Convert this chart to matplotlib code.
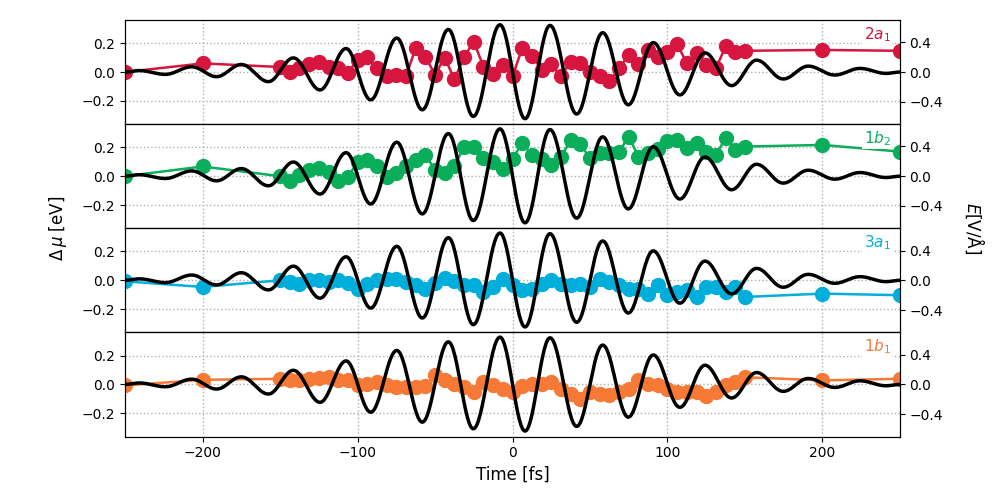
import numpy as np
import matplotlib
matplotlib.use("Agg")
import matplotlib.pyplot as plt

# sampling times of the orbital energy shifts [fs]
time_fs = [-250, -200, -150, -143.75, -137.5, -131.25, -125, -118.75, -112.5,
           -106.25, -100, -93.75, -87.5, -81.25, -75, -68.75, -62.5, -56.25,
           -50, -43.75, -37.5, -31.25, -25, -18.75, -12.5, -6.25, 0, 6.25,
           12.5, 18.75, 25, 31.25, 37.5, 43.75, 50, 56.25, 62.5, 68.75, 75,
           81.25, 87.5, 93.75, 100, 106.25, 112.5, 118.75, 125, 131.25, 137.5,
           143.75, 150, 200, 250]

# delta mu [eV]
mu_2a1 = [0.0, 0.06, 0.035, 0.0, 0.025, 0.053, 0.07, 0.035, 0.03, -0.005,
          0.085, 0.107, 0.025, -0.03, -0.018, -0.028, 0.165, 0.107, -0.018,
          0.10, -0.05, 0.105, 0.21, 0.037, -0.013, 0.052, -0.03, 0.165, 0.114,
          0.014, 0.053, -0.03, 0.072, 0.06, 0.0, -0.03, -0.063, 0.025, 0.12,
          0.053, 0.153, 0.107, 0.137, 0.193, 0.06, 0.13, 0.05, 0.025, 0.177,
          0.142, 0.147, 0.153, 0.147]
mu_1b2 = [0.0, 0.067, 0.0, -0.03, 0.008, 0.043, 0.06, 0.03, -0.03, -0.008,
          0.10, 0.11, 0.067, -0.008, 0.02, 0.067, 0.11, 0.147, 0.043, 0.02,
          0.067, 0.205, 0.205, 0.123, 0.10, 0.047, 0.12, 0.23, 0.147, 0.12,
          0.077, 0.135, 0.247, 0.223, 0.123, 0.158, 0.163, 0.17, 0.274, 0.135,
          0.158, 0.186, 0.24, 0.25, 0.193, 0.228, 0.17, 0.147, 0.263, 0.181,
          0.205, 0.216, 0.17]
mu_3a1 = [-0.007, -0.046, 0.0, -0.01, -0.023, 0.0, 0.0, -0.01, 0.0, -0.016,
          -0.057, -0.023, 0.0, 0.011, 0.011, -0.01, -0.034, -0.057, -0.016,
          0.016, -0.007, -0.034, -0.03, -0.08, -0.046, 0.011, -0.034, -0.069,
          -0.057, -0.023, 0.0, -0.023, -0.034, -0.023, -0.046, 0.011, -0.011,
          -0.034, -0.057, -0.062, -0.092, -0.034, -0.103, -0.08, -0.069,
          -0.115, -0.046, -0.046, -0.08, -0.046, -0.115, -0.092, -0.103]
mu_1b1 = [-0.007, 0.032, 0.039, 0.028, 0.032, 0.039, 0.046, 0.05, 0.032,
          0.028, -0.007, 0.005, 0.016, -0.007, -0.018, -0.018, -0.018, -0.014,
          0.062, 0.028, 0.005, -0.018, -0.053, 0.016, -0.007, -0.03, -0.053,
          -0.014, 0.005, 0.005, 0.016, -0.03, -0.064, -0.099, -0.053, -0.064,
          -0.076, -0.053, -0.03, 0.028, 0.005, -0.007, -0.03, -0.053, -0.053,
          -0.053, -0.083, -0.053, -0.007, 0.016, 0.05, 0.028, 0.039]

orbitals = ["$2a_1$", "$1b_2$", "$3a_1$", "$1b_1$"]
colors = ["#d6163e", "#0aae5a", "#00aedb", "#f67936"]
series = [mu_2a1, mu_1b2, mu_3a1, mu_1b1]

# laser field: extrema (time [fs], E [V/A])
field_t = [-250, -241, -224, -207, -191, -175, -157.5, -141.4, -124.2, -107.4,
           -91.5, -74.7, -58.2, -41.4, -25.3, -8.1, 8.1, 24.2, 41.4, 58.2,
           74.7, 90.8, 108, 124.2, 141.4, 157.5, 174.7, 190.8, 208, 224.2,
           241, 250]
field_e = [0.0, 0.02, -0.031, 0.071, -0.062, 0.102, -0.129, 0.19, -0.24,
           0.316, -0.373, 0.457, -0.507, 0.573, -0.596, 0.636, -0.627, 0.627,
           -0.564, 0.529, -0.44, 0.396, -0.307, 0.258, -0.182, 0.16, -0.093,
           0.08, -0.04, 0.049, -0.018, 0.0]

# smooth half-wave segments between the read extrema
ft, fe = [], []
for i in range(len(field_t) - 1):
    s = np.linspace(0, 1, 30, endpoint=False)
    ft.extend(field_t[i] + (field_t[i + 1] - field_t[i]) * s)
    fe.extend(field_e[i] + (field_e[i + 1] - field_e[i]) * (1 - np.cos(np.pi * s)) / 2)
ft.append(field_t[-1])
fe.append(field_e[-1])

fig, axes = plt.subplots(4, 1, sharex=True, figsize=(10.01, 5), dpi=100)
fig.subplots_adjust(left=0.125, right=0.899, top=0.96, bottom=0.127, hspace=0)

for ax, mu, col, lab in zip(axes, series, colors, orbitals):
    ax.plot(time_fs, mu, "-o", color=col, lw=1.8, ms=10)
    ax.set_ylim(-0.36, 0.36)
    ax.set_yticks([-0.2, 0.0, 0.2])
    ax.set_xlim(-250, 250)
    ax.grid(True, ls=":", color="#b0b0b0", lw=1)
    ax.text(0.988, 0.86, lab, transform=ax.transAxes, ha="right", va="center",
            color=col, fontsize=11,
            bbox=dict(facecolor="white", edgecolor="none", pad=1), zorder=5)
    ax2 = ax.twinx()
    ax2.plot(ft, fe, color="black", lw=2.5)
    ax2.set_ylim(-0.7, 0.7)
    ax2.set_yticks([-0.4, 0.0, 0.4])

axes[-1].set_xticks([-200, -100, 0, 100, 200])
axes[-1].set_xlabel("Time [fs]", fontsize=12)
fig.text(0.058, 0.544, r"$\Delta\,\mu$ [eV]", rotation=90, ha="center",
         va="center", fontsize=12)
fig.text(0.974, 0.544, r"$E$[V/Å]", rotation=270, ha="center", va="center",
         fontsize=12)

fig.savefig("out.png", dpi=100)
